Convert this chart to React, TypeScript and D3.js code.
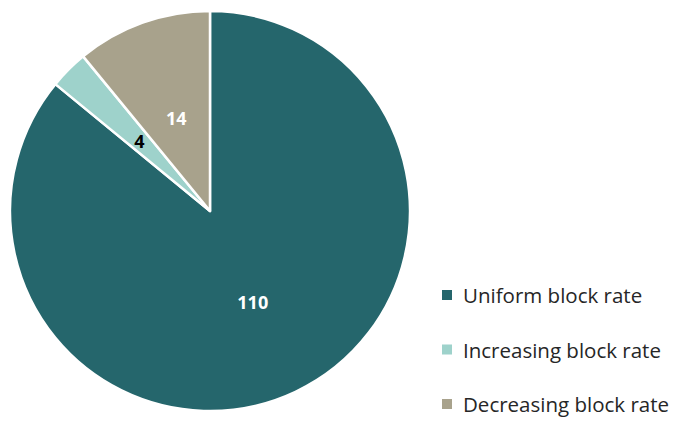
import React from 'react';
import * as d3 from 'd3';

const categories = ['Uniform block rate', 'Increasing block rate', 'Decreasing block rate'];
const values = [110, 4, 14];
const colors = ['#25666c', '#9ed2cb', '#a8a28c'];
const labelColors = ['#ffffff', '#000000', '#ffffff'];

const W = 690;
const H = 439;
const cx = 210;
const cy = 211;
const radius = 200;

const App: React.FC = () => {
  const pie = d3.pie<number>().sort(null).value(d => d);
  const arcs = pie(values);
  const arc = d3.arc<d3.PieArcDatum<number>>().innerRadius(0).outerRadius(radius);
  const labelArc = d3.arc<d3.PieArcDatum<number>>().innerRadius(radius * 0.5).outerRadius(radius * 0.5);

  // legend rows
  const legendY = d3.scalePoint<string>().domain(categories).range([295, 404]);

  return (
    <svg width={W} height={H} style={{ position: 'absolute', left: 0, top: 0 }}>
      <rect width={W} height={H} fill="#ffffff" />
      <g transform={`translate(${cx},${cy})`}>
        {arcs.map((a, i) => (
          <path key={i} d={arc(a) || ''} fill={colors[i]} stroke="#ffffff" strokeWidth={2.5} strokeLinejoin="round" />
        ))}
        {arcs.map((a, i) => {
          const [lx, ly] = labelArc.centroid(a);
          return (
            <text key={i} x={lx} y={ly + 1} textAnchor="middle" dominantBaseline="central"
              fontFamily="'Open Sans', sans-serif" fontWeight="bold" fontSize={18} fill={labelColors[i]}>
              {values[i]}
            </text>
          );
        })}
      </g>
      <g fontFamily="'Open Sans', sans-serif" fontSize={20.5} fill="#262626">
        {categories.map((c, i) => (
          <g key={c} transform={`translate(442,${legendY(c)})`}>
            <rect x={0} y={-5} width={10} height={10} fill={colors[i]} />
            <text x={21} y={0} dominantBaseline="central">{c}</text>
          </g>
        ))}
      </g>
    </svg>
  );
};

export default App;
